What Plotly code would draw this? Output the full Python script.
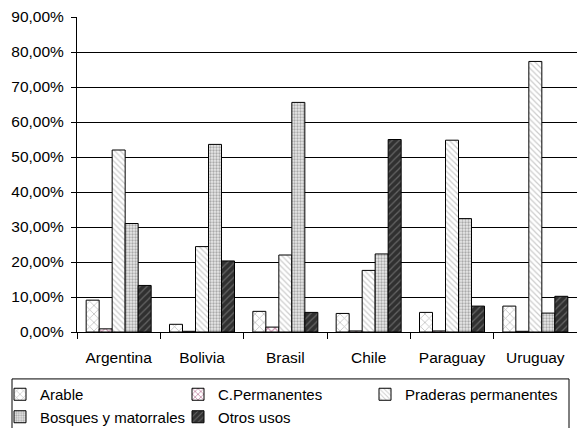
import plotly.graph_objects as go

paises = ["Argentina", "Bolivia", "Brasil", "Chile", "Paraguay", "Uruguay"]

arable = [9.1, 2.2, 5.9, 5.3, 5.6, 7.4]
c_permanentes = [0.9, 0.2, 1.4, 0.3, 0.3, 0.2]
praderas = [52.0, 24.4, 22.0, 17.6, 54.8, 77.3]
bosques = [31.0, 53.6, 65.6, 22.3, 32.4, 5.4]
otros = [13.3, 20.3, 5.6, 55.0, 7.4, 10.2]

y_ticks = [0, 10, 20, 30, 40, 50, 60, 70, 80, 90]
y_tick_text = [f"{v},00%" for v in y_ticks]

# (name, values, fill pattern, legend column)
series = [
    ("Arable", arable, dict(shape="x", fgcolor="#808080", bgcolor="#ffffff", size=6, solidity=0.25), "legend"),
    ("C.Permanentes", c_permanentes, dict(shape="x", fgcolor="#993366", bgcolor="#ffffff", size=5, solidity=0.4), "legend2"),
    ("Praderas permanentes", praderas, dict(shape="\\", fgcolor="#9a9a9a", bgcolor="#ffffff", size=4, solidity=0.3), "legend3"),
    ("Bosques y matorrales", bosques, dict(shape=".", fgcolor="#6a6a6a", bgcolor="#e8e8e8", size=3, solidity=0.45), "legend"),
    ("Otros usos", otros, dict(shape="/", fgcolor="#9a9a9a", bgcolor="#303030", size=5, solidity=0.25), "legend2"),
]

fig = go.Figure()
for name, vals, pat, leg in series:
    fig.add_trace(go.Bar(
        x=paises, y=vals, name=name, legend=leg,
        marker=dict(color=pat["bgcolor"], line=dict(color="#000000", width=1), pattern=pat),
    ))

font = dict(family="Liberation Sans", size=15.5, color="#000000")
legend_font = dict(family="Liberation Sans", size=15, color="#000000")

# frame around the legend columns
fig.add_shape(
    type="rect", xref="paper", yref="paper",
    x0=-0.13, x1=0.984, y0=-0.149, y1=-0.33,
    line=dict(color="#000000", width=1), fillcolor="rgba(0,0,0,0)", layer="above",
)

legend_top = 0.1168
legend_common = dict(
    orientation="v", xref="paper", yref="container",
    y=legend_top, yanchor="top", xanchor="left",
    borderwidth=0, bgcolor="rgba(0,0,0,0)", font=legend_font, traceorder="normal",
)

fig.update_layout(
    width=577, height=428,
    margin=dict(l=77, r=0, t=17, b=96, pad=0),
    paper_bgcolor="#ffffff", plot_bgcolor="#ffffff",
    font=font,
    barmode="group", bargap=0.22, bargroupgap=0,
    showlegend=True,
    legend=dict(x=-0.16, **legend_common),
    legend2=dict(x=0.202, **legend_common),
    legend3=dict(x=0.576, **legend_common),
    xaxis=dict(
        showline=True, linecolor="#000000", linewidth=1,
        ticks="outside", tickson="boundaries", ticklen=6, tickcolor="#000000",
        showgrid=False, tickfont=font, ticklabelstandoff=11,
    ),
    yaxis=dict(
        range=[0, 90], tickvals=y_ticks, ticktext=y_tick_text,
        showline=True, linecolor="#000000", linewidth=1,
        ticks="outside", ticklen=5, tickcolor="#000000",
        showgrid=True, gridcolor="#000000", gridwidth=1,
        zeroline=False, tickfont=font, ticklabelstandoff=4,
    ),
)

fig.write_html("out.html")
